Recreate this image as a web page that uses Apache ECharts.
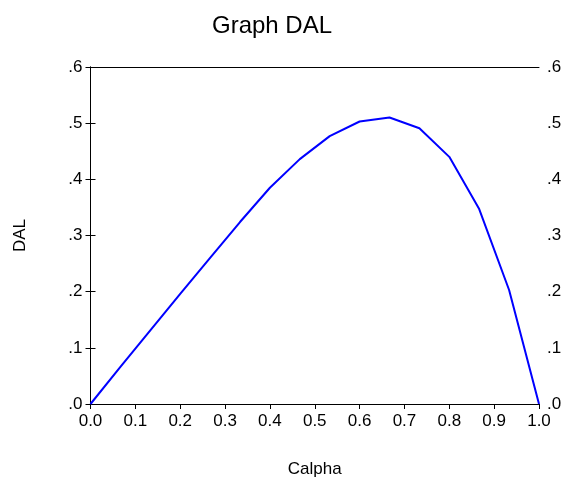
<!DOCTYPE html>
<html>
<head>
<meta charset="utf-8">
<script src="https://cdn.jsdelivr.net/npm/echarts@6/dist/echarts.min.js"></script>
<style>html,body{margin:0;padding:0;background:#fff;}#c{width:565px;height:477px;}</style>
</head>
<body>
<div id="c"></div>
<script>
var calpha = [0, 1/15, 2/15, 3/15, 4/15, 5/15, 6/15, 7/15, 8/15, 9/15, 10/15, 11/15, 12/15, 13/15, 14/15, 1];
var dal = [0, 0.066, 0.131, 0.196, 0.260, 0.324, 0.385, 0.436, 0.477, 0.503, 0.510, 0.491, 0.440, 0.347, 0.203, 0];
var title = 'Graph DAL';
var xName = 'Calpha';
var yName = 'DAL';

var chart = echarts.init(document.getElementById('c'), null, {renderer: 'canvas'});
var font = 'Liberation Sans, Arial, sans-serif';
function yFmt(v) { return v.toFixed(1).replace(/^0/, ''); }
var yBase = {
  type: 'value', min: 0, max: 0.6, interval: 0.1,
  axisLine: {show: true, lineStyle: {color: '#000', width: 1}},
  axisTick: {show: true, inside: false, length: 5, lineStyle: {color: '#000'}},
  splitLine: {show: false},
  axisLabel: {formatter: yFmt, color: '#000', fontSize: 17, fontFamily: font, margin: 8}
};
chart.setOption({
  animation: false,
  backgroundColor: '#fff',
  title: {text: title, left: 207, top: 9, textStyle: {fontFamily: font, fontWeight: 'normal', fontSize: 24, color: '#000'}},
  grid: {left: 90.5, right: 26, top: 67, bottom: 73, containLabel: false, outerBoundsMode: 'none', show: false},
  xAxis: [{
    type: 'value', min: 0, max: 1, interval: 0.1, position: 'bottom',
    name: xName, nameLocation: 'middle', nameGap: 57,
    nameTextStyle: {fontFamily: font, fontSize: 17, color: '#000'},
    axisLine: {show: true, onZero: false, lineStyle: {color: '#000', width: 1}},
    axisTick: {show: true, length: 5, lineStyle: {color: '#000'}},
    splitLine: {show: false},
    axisLabel: {formatter: function (v) { return v.toFixed(1); }, color: '#000', fontSize: 17, fontFamily: font, margin: 9}
  }, {
    type: 'value', min: 0, max: 1, position: 'top',
    axisLine: {show: true, onZero: false, lineStyle: {color: '#000', width: 1}},
    axisTick: {show: false}, axisLabel: {show: false}, splitLine: {show: false}
  }],
  yAxis: [
    Object.assign({}, yBase, {position: 'left', name: yName, nameLocation: 'middle', nameGap: 62, nameRotate: 90,
      nameTextStyle: {fontFamily: font, fontSize: 17, color: '#000'}}),
    Object.assign({}, yBase, {position: 'right'})
  ],
  series: [{
    type: 'line',
    data: calpha.map(function (x, i) { return [x, dal[i]]; }),
    showSymbol: false,
    lineStyle: {color: '#0000ff', width: 2},
    xAxisIndex: 0,
    yAxisIndex: 0
  }]
});
</script>
</body>
</html>
